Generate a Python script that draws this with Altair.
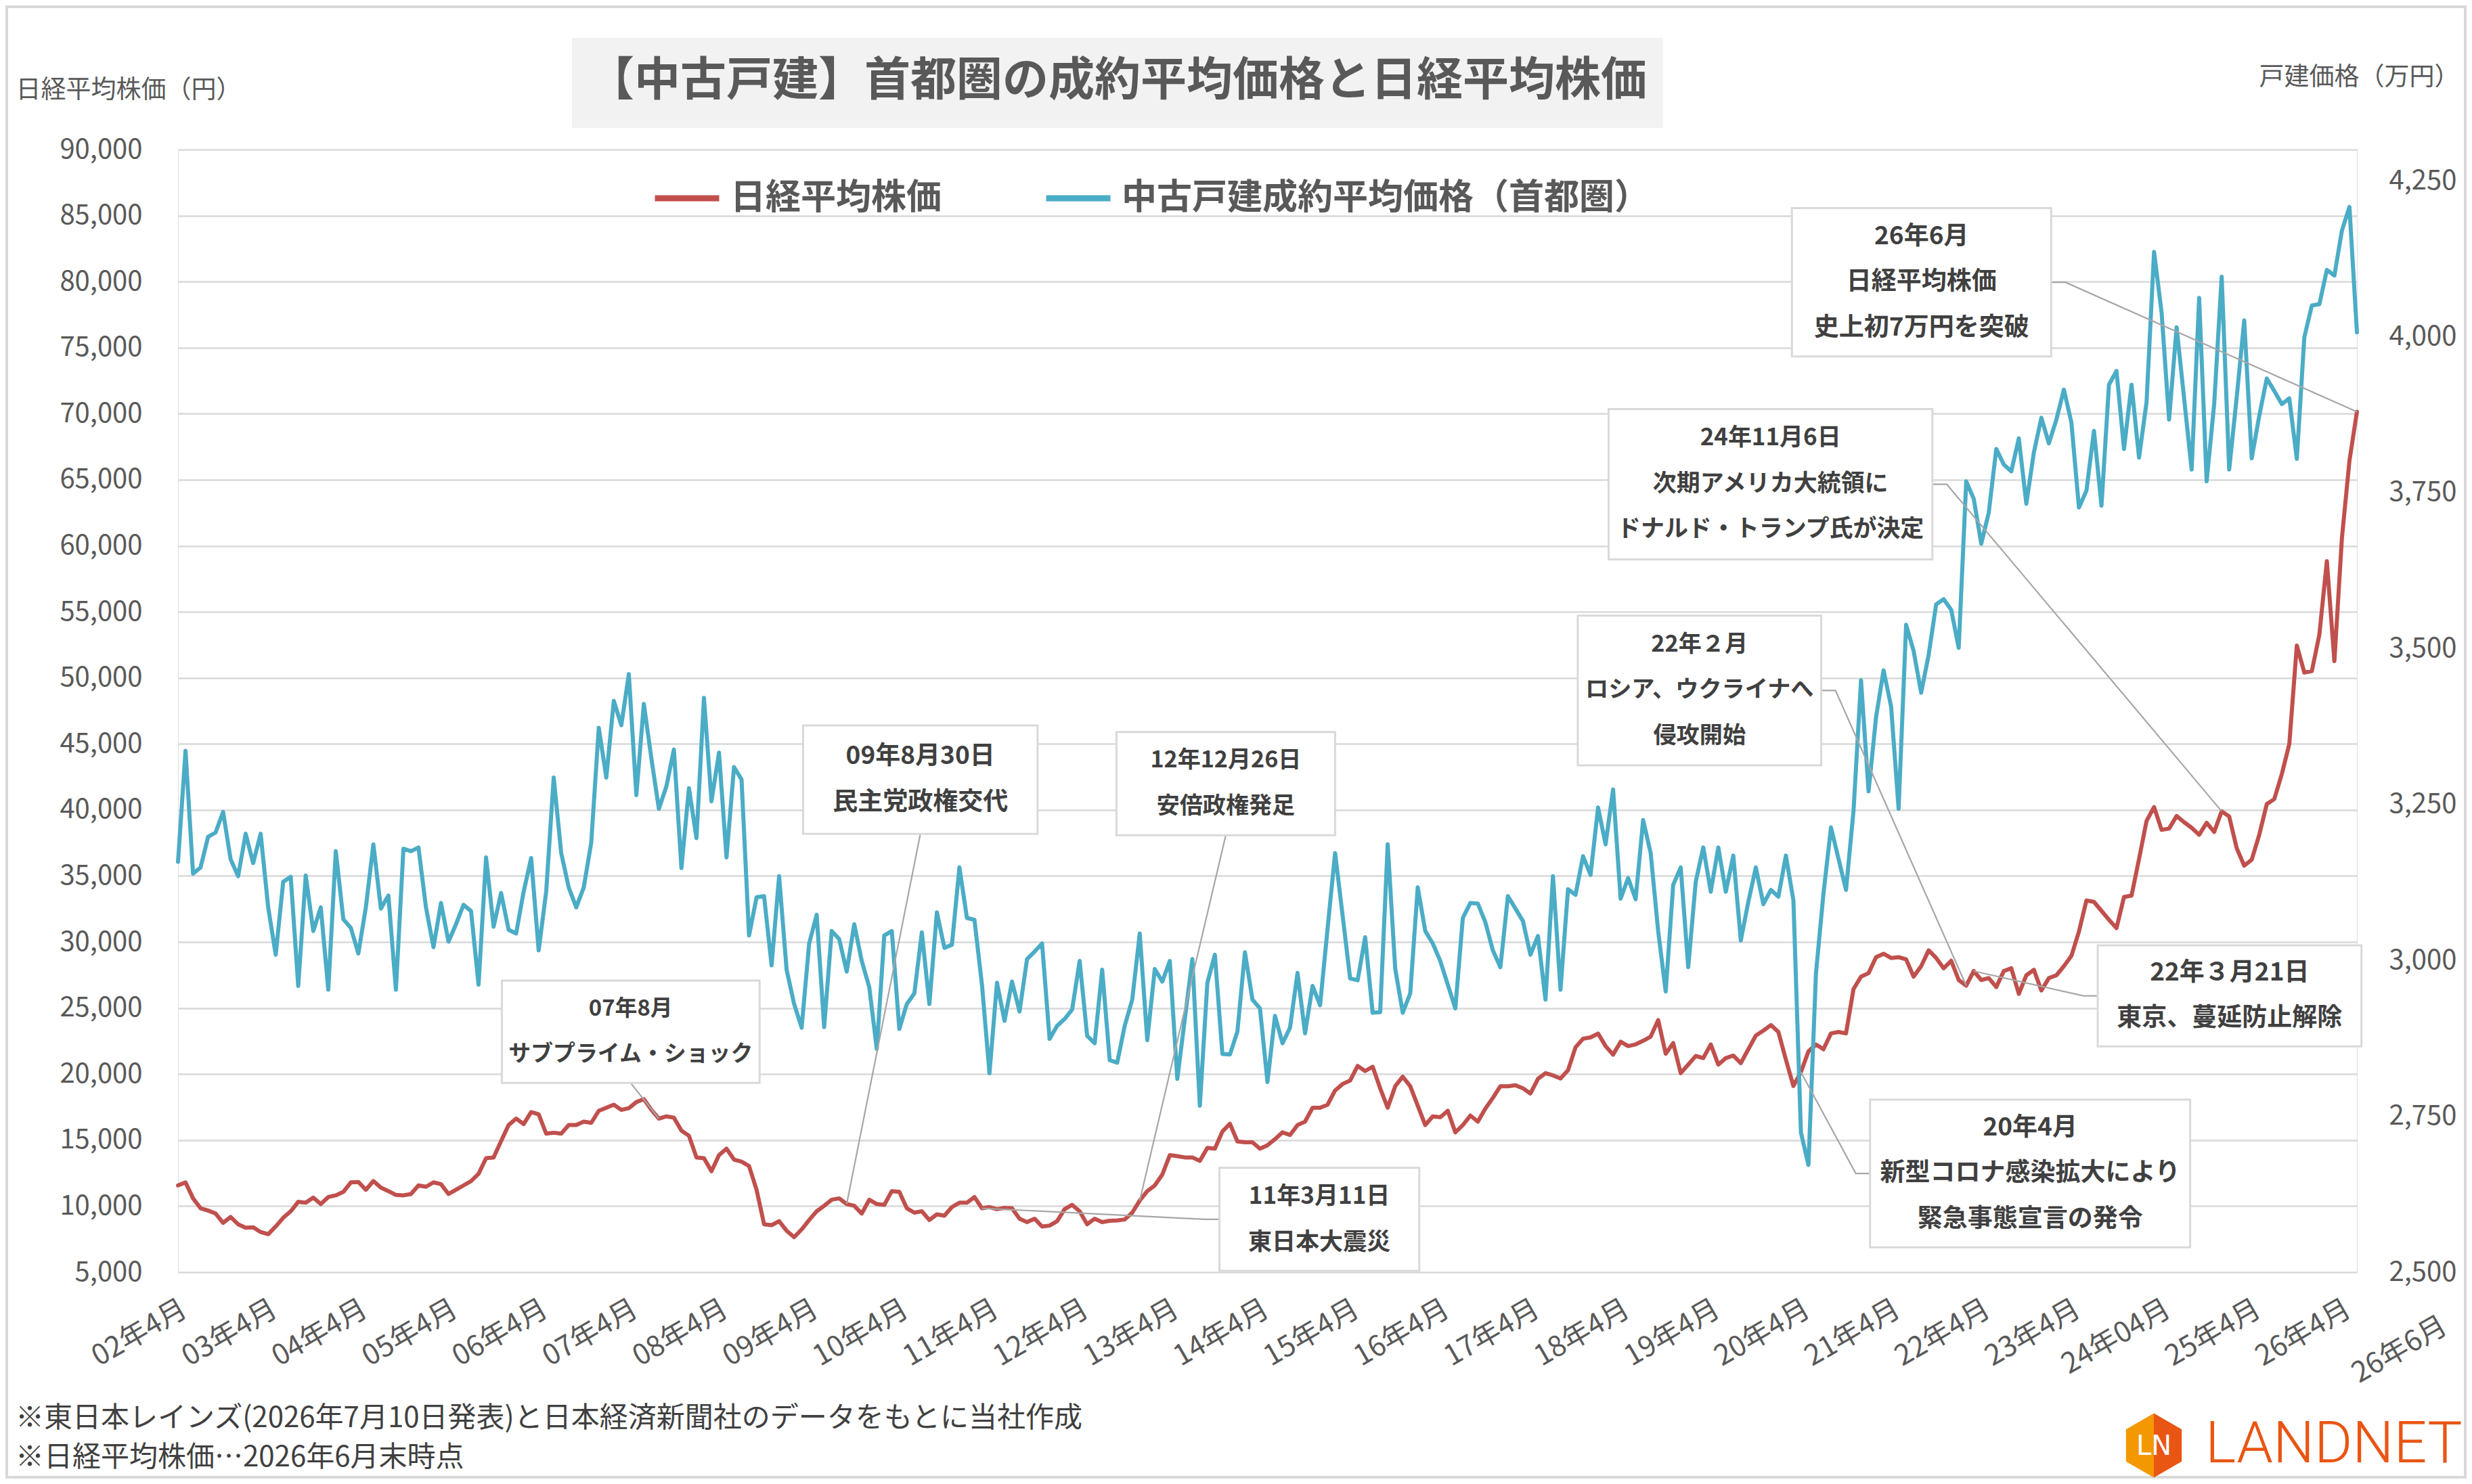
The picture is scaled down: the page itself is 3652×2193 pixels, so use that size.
import json
import altair as alt
import pandas as pd

FONT = "Noto Sans CJK JP"
TEXT_DARK = "#404040"
TEXT_GRAY = "#595959"
GRID = "#d9d9d9"

# ---------------- data ----------------
months = [f"{y}-{m:02d}" for y in range(2002, 2027) for m in range(1, 13)][3:3 + 291]

# 日経平均株価（円） monthly, 2002-04 .. 2026-06
nikkei = [
    11570, 11800, 10590, 9840, 9670, 9440, 8730, 9180, 8630,
    8370, 8400, 8040, 7880, 8460, 9120, 9610, 10330, 10260, 10650, 10160, 10690,
    10820, 11080, 11800, 11830, 11240, 11900, 11400, 11140, 10850, 10820, 10920, 11570,
    11470, 11800, 11670, 10920, 11240, 11570, 11900, 12450, 13630, 13690, 14930, 16140,
    16630, 16210, 17120, 16960, 15490, 15560, 15490, 16140, 16140, 16400, 16310, 17220,
    17450, 17680, 17290, 17420, 17880, 18100, 17290, 16630, 16800, 16700, 15720, 15330,
    13690, 13630, 12650, 13860, 14350, 13530, 13370, 13040, 11240, 8630, 8560, 8860,
    8140, 7650, 8240, 8950, 9610, 10030, 10490, 10590, 10160, 10030, 9440, 10490,
    10160, 10100, 11140, 11080, 9840, 9510, 9610, 8950, 9380, 9280, 9930, 10260,
    10260, 10690, 9840, 9930, 9770, 9870, 9840, 9050, 8790, 9050, 8460, 8530,
    8860, 9770, 10100, 9610, 8630, 9050, 8790, 8890, 8920, 8990, 9510, 10420,
    11140, 11570, 12390, 13860, 13790, 13690, 13690, 13430, 14410, 14350, 15650, 16240,
    14900, 14840, 14840, 14350, 14610, 15070, 15590, 15390, 16140, 16400, 17450, 17450,
    17680, 18760, 19250, 19510, 20620, 20230, 20560, 18920, 17450, 19080, 19800, 19080,
    17610, 16140, 16800, 16730, 17220, 15590, 16140, 16860, 16400, 17390, 18200, 19080,
    19080, 19150, 18920, 18530, 19640, 20070, 19900, 19670, 20290, 22030, 22680, 22780,
    23070, 22120, 21470, 22450, 22120, 22250, 22520, 22840, 24090, 21540, 22350, 20070,
    20720, 21370, 21210, 22250, 20720, 21210, 21400, 20830, 21880, 22920, 23290, 23710,
    23190, 21090, 19100, 20150, 21720, 22240, 21880, 23080, 23190, 23080, 26440, 27380,
    27640, 28850, 29110, 28790, 28850, 28690, 27380, 28170, 29370, 28790, 28010, 28580,
    27120, 26700, 27800, 27120, 27270, 26590, 27800, 28010, 26070, 27480, 27900, 26330,
    27270, 27480, 28170, 28950, 30790, 33140, 33040, 32360, 31680, 31050, 33410, 33510,
    36290, 39170, 40220, 38490, 38590, 39540, 39070, 38650, 38120, 39030, 38330, 39900,
    39500, 37100, 35780, 36230, 38120, 40440, 40820, 42710, 44990, 52450, 50400, 50510,
    53270, 58840, 51260, 60570, 66410, 70150,
]

# 中古戸建成約平均価格（首都圏, 万円） monthly, 2002-04 .. 2026-06
house = [
    3158, 3336, 3139, 3149, 3198, 3205, 3238, 3162, 3135,
    3203, 3156, 3203, 3085, 3009, 3126, 3134, 2959, 3136, 3047, 3085, 2953,
    3175, 3066, 3052, 3011, 3085, 3186, 3083, 3104, 2953, 3179, 3175, 3181,
    3085, 3021, 3092, 3030, 3058, 3089, 3079, 2961, 3165, 3054, 3108, 3049,
    3043, 3110, 3164, 3016, 3110, 3293, 3172, 3117, 3085, 3117, 3189, 3373,
    3293, 3416, 3377, 3459, 3265, 3411, 3324, 3243, 3279, 3338, 3148, 3276,
    3196, 3421, 3255, 3333, 3165, 3310, 3290, 3040, 3101, 3103, 2992, 3135,
    2985, 2930, 2892, 3027, 3073, 2893, 3047, 3034, 2982, 3058, 2999, 2957,
    2858, 3040, 3047, 2890, 2930, 2947, 3045, 2930, 3077, 3020, 3025, 3149,
    3068, 3065, 2961, 2819, 2964, 2903, 2966, 2918, 3002, 3014, 3027, 2874,
    2895, 2906, 2921, 2999, 2879, 2867, 2985, 2840, 2836, 2895, 2937, 3043,
    2872, 2986, 2966, 2999, 2810, 2906, 3002, 2767, 2964, 3009, 2850, 2849,
    2886, 3013, 2937, 2923, 2805, 2911, 2867, 2892, 2980, 2883, 2959, 2928,
    3051, 3172, 3072, 2971, 2968, 3037, 2916, 2917, 3186, 2987, 2916, 2947,
    3117, 3047, 3027, 2999, 2961, 2923, 3068, 3092, 3091, 3061, 3016, 2989,
    3103, 3083, 3063, 3009, 3039, 2937, 3135, 2953, 3114, 3105, 3167, 3137,
    3245, 3186, 3274, 3099, 3132, 3098, 3225, 3172, 3047, 2950, 3121, 3149,
    2989, 3126, 3181, 3110, 3181, 3110, 3168, 3032, 3094, 3149, 3090, 3113,
    3102, 3168, 3096, 2724, 2672, 2979, 3107, 3213, 3163, 3113, 3240, 3449,
    3271, 3390, 3465, 3407, 3243, 3538, 3496, 3429, 3490, 3571, 3579, 3562,
    3501, 3768, 3740, 3668, 3718, 3820, 3795, 3784, 3837, 3732, 3814, 3870,
    3829, 3867, 3915, 3862, 3726, 3753, 3849, 3729, 3923, 3945, 3820, 3923,
    3806, 3895, 4136, 4039, 3867, 4015, 3901, 3787, 4062, 3768, 3892, 4096,
    3787, 3903, 4026, 3805, 3873, 3933, 3913, 3892, 3901, 3804, 3999, 4050,
    4052, 4107, 4098, 4170, 4208, 4007,
]

assert len(months) == len(nikkei) == len(house) == 291

x_tick_labels = [f"{y:02d}年4月" for y in range(2, 24)] + ["24年04月", "25年4月", "26年4月"]
x_last_label = "26年6月"
left_ticks = list(range(5000, 90001, 5000))
right_ticks = list(range(2500, 4251, 250))

series_names = ["日経平均株価", "中古戸建成約平均価格（首都圏）"]
series_colors = ["#C0504D", "#4BACC6"]

title_text = "【中古戸建】首都圏の成約平均価格と日経平均株価"
left_title = "日経平均株価（円）"
right_title = "戸建価格（万円）"
footnotes = [
    "※東日本レインズ(2026年7月10日発表)と日本経済新聞社のデータをもとに当社作成",
    "※日経平均株価…2026年6月末時点",
]

ann_texts = [
    ["07年8月", "サブプライム・ショック"],
    ["09年8月30日", "民主党政権交代"],
    ["11年3月11日", "東日本大震災"],
    ["12年12月26日", "安倍政権発足"],
    ["20年4月", "新型コロナ感染拡大により", "緊急事態宣言の発令"],
    ["22年２月", "ロシア、ウクライナへ", "侵攻開始"],
    ["22年３月21日", "東京、蔓延防止解除"],
    ["24年11月6日", "次期アメリカ大統領に", "ドナルド・トランプ氏が決定"],
    ["26年6月", "日経平均株価", "史上初7万円を突破"],
]
ann_anchor = ["2007-08", "2009-09", "2011-03", "2012-12", "2020-04",
              "2022-02", "2022-03", "2024-12", "2026-06"]

# ---------------- annotation layout (month index / left-axis units) ----------------
ann_layout = [
    (43.1, 77.4, 27087, 19327, "bottom"),
    (83.2, 114.4, 46394, 38190, "bottom"),
    (138.6, 165.2, 12904, 5107, "left"),
    (124.9, 154.0, 45893, 38085, "bottom"),
    (225.2, 267.8, 18062, 6886, "left"),
    (186.3, 218.7, 54713, 43372, "right"),
    (255.5, 290.6, 29750, 22097, "left"),
    (190.4, 233.5, 70349, 58968, "right"),
    (214.8, 249.3, 85562, 74336, "right"),
]
STUB = 1.9
LINE_STEP = 3460
PLOT_W, PLOT_H = 3219, 1659
PX_PER_MONTH = PLOT_W / (len(months) - 1)
ANN_FONT_MAX = 37

df = pd.DataFrame({"idx": list(range(len(months))), "month": months,
                   "nikkei": nikkei, "house": house})

tick_df = pd.DataFrame({"idx": list(range(0, len(months), 12)), "label": x_tick_labels})

box_rows, lead_rows, text_rows = [], [], []
for k, (lay, anchor, lines) in enumerate(zip(ann_layout, ann_anchor, ann_texts)):
    m0, m1, top, bot, side = lay
    box_rows.append({"m0": m0, "m1": m1, "top": top, "bot": bot})
    ai = months.index(anchor)
    mid = (top + bot) / 2
    if side == "bottom":
        pts = [((m0 + m1) / 2, bot)]
    elif side == "left":
        pts = [(m0, mid), (m0 - STUB, mid)]
    else:
        pts = [(m1, mid), (m1 + STUB, mid)]
    pts.append((ai, nikkei[ai]))
    for o, (mx, my) in enumerate(pts):
        lead_rows.append({"ann": k, "o": o, "m": mx, "v": my})
    box_px = (m1 - m0) * PX_PER_MONTH
    fs = min(ANN_FONT_MAX, min(0.95 * box_px / len(t) for t in lines))
    n = len(lines)
    for i, t in enumerate(lines):
        text_rows.append({"m": (m0 + m1) / 2, "v": mid + ((n - 1) / 2 - i) * LINE_STEP,
                          "t": t, "fs": fs})

box_df = pd.DataFrame(box_rows)
lead_df = pd.DataFrame(lead_rows)
text_df = pd.DataFrame(text_rows)

# ---------------- scales / axes ----------------
x_scale = alt.Scale(domain=[0, len(months) - 1], nice=False, zero=False)
yl_scale = alt.Scale(domain=[5000, 90000], nice=False, zero=False)
yr_scale = alt.Scale(domain=[2500, 4300], nice=False, zero=False)
color_scale = alt.Scale(domain=series_names, range=series_colors)

left_axis = alt.Axis(values=left_ticks, format=",d", orient="left", grid=True,
                     gridColor=GRID, gridWidth=2.5, ticks=False, domain=False,
                     labelFont=FONT, labelFontSize=40, labelColor=TEXT_GRAY, labelPadding=53,
                     labelLimit=400,
                     title=left_title, titleAngle=0, titleAlign="left", titleBaseline="middle",
                     titleX=-240, titleY=-88, titleFont=FONT, titleFontSize=37,
                     titleFontWeight="normal", titleColor=TEXT_GRAY, titleLimit=800)

right_axis = alt.Axis(values=right_ticks, format=",d", orient="right", grid=False,
                      ticks=False, domain=False,
                      labelFont=FONT, labelFontSize=40, labelColor=TEXT_GRAY, labelPadding=47,
                      labelLimit=400,
                      title=right_title, titleAngle=0, titleAlign="right", titleBaseline="middle",
                      titleX=151, titleY=-107, titleFont=FONT, titleFontSize=37,
                      titleFontWeight="normal", titleColor=TEXT_GRAY, titleLimit=800)

legend = alt.Legend(title=None, orient="none", legendX=700, legendY=20,
                    direction="horizontal", symbolType="stroke", symbolSize=9025,
                    symbolStrokeWidth=9, labelFont=FONT, labelFontSize=52,
                    labelFontWeight="bold", labelColor=TEXT_GRAY, labelOffset=12,
                    columnPadding=135, labelLimit=1200, padding=0)

# ---------------- layers ----------------
red = alt.Chart(df).transform_calculate(
    series=json.dumps(series_names[0], ensure_ascii=False)
).mark_line(strokeWidth=6, strokeJoin="round", strokeCap="round").encode(
    x=alt.X("idx:Q", scale=x_scale, axis=None),
    y=alt.Y("nikkei:Q", scale=yl_scale, axis=left_axis),
    color=alt.Color("series:N", scale=color_scale, legend=legend),
)

blue = alt.Chart(df).transform_calculate(
    series=json.dumps(series_names[1], ensure_ascii=False)
).mark_line(strokeWidth=6, strokeJoin="round", strokeCap="round").encode(
    x=alt.X("idx:Q", scale=x_scale, axis=None),
    y=alt.Y("house:Q", scale=yr_scale, axis=right_axis),
    color=alt.Color("series:N", scale=color_scale, legend=legend),
)

x_labels = alt.Chart(tick_df).mark_text(font=FONT, fontSize=42, color=TEXT_GRAY, angle=330,
                                        align="right", baseline="top").encode(
    x=alt.X("idx:Q", scale=x_scale, axis=None),
    y=alt.value(PLOT_H + 34),
    text="label:N",
)

leaders = alt.Chart(lead_df).mark_line(color="#a6a6a6", strokeWidth=2.2).encode(
    x=alt.X("m:Q", scale=x_scale, axis=None),
    y=alt.Y("v:Q", scale=yl_scale, axis=None),
    detail="ann:N",
    order="o:Q",
)

boxes = alt.Chart(box_df).mark_rect(fill="white", stroke=GRID, strokeWidth=3).encode(
    x=alt.X("m0:Q", scale=x_scale, axis=None),
    x2="m1",
    y=alt.Y("top:Q", scale=yl_scale, axis=None),
    y2="bot",
)

ann_text = alt.Chart(text_df).mark_text(font=FONT, fontWeight="bold",
                                        color=TEXT_DARK, align="center", baseline="middle").encode(
    x=alt.X("m:Q", scale=x_scale, axis=None),
    y=alt.Y("v:Q", scale=yl_scale, axis=None),
    text="t:N",
    size=alt.Size("fs:Q", scale=None, legend=None),
)

one = alt.Data(values=[{"a": 1}])

border = alt.Chart(one).mark_rect(fillOpacity=0, stroke=GRID, strokeWidth=4).encode(
    x=alt.value(-253), x2=alt.value(3379), y=alt.value(-211), y2=alt.value(1962))

title_box = alt.Chart(one).mark_rect(fill="#f2f2f2").encode(
    x=alt.value(582), x2=alt.value(2194), y=alt.value(-165), y2=alt.value(-32))

title = alt.Chart(one).mark_text(text=title_text, font=FONT, fontSize=68, fontWeight="bold",
                                 color=TEXT_GRAY, align="center", baseline="middle").encode(
    x=alt.value(1388), y=alt.value(-100))

last_label = alt.Chart(one).mark_text(text=x_last_label, font=FONT, fontSize=42,
                                      color=TEXT_GRAY, angle=330, align="right",
                                      baseline="top").encode(
    x=alt.value(3339), y=alt.value(1718))

foot1 = alt.Chart(one).mark_text(text=footnotes[0], font=FONT, fontSize=42, color=TEXT_DARK,
                                 align="left", baseline="middle").encode(
    x=alt.value(-240), y=alt.value(1875))
foot2 = alt.Chart(one).mark_text(text=footnotes[1], font=FONT, fontSize=42, color=TEXT_DARK,
                                 align="left", baseline="middle").encode(
    x=alt.value(-240), y=alt.value(1933))

hex_left = alt.Chart(one).mark_point(shape="M0,-1L-0.866,-0.5L-0.866,0.5L0,1Z", filled=True,
                                     size=9025, color="#F39800", opacity=1).encode(
    x=alt.value(2919), y=alt.value(1915))
hex_right = alt.Chart(one).mark_point(shape="M0,-1L0.866,-0.5L0.866,0.5L0,1Z", filled=True,
                                      size=9025, color="#E95513", opacity=1).encode(
    x=alt.value(2919), y=alt.value(1915))
hex_letters = alt.Chart(one).mark_text(text="LN", font="DejaVu Sans", fontSize=40,
                                       color="white", align="center", baseline="middle").encode(
    x=alt.value(2919), y=alt.value(1917))
logo_text = alt.Chart(one).mark_text(text="LANDNET", font="Roboto", fontSize=86, fontWeight=300,
                                     color="#E95513", align="left",
                                     baseline="middle").encode(
    x=alt.value(2995), y=alt.value(1914))

chart = alt.layer(
    border, title_box, title,
    red, blue, x_labels, leaders, boxes, ann_text,
    last_label, foot1, foot2,
    hex_left, hex_right, hex_letters, logo_text,
).resolve_scale(y="independent").properties(
    width=PLOT_W, height=PLOT_H,
    padding={"left": 255, "top": 213, "right": 162, "bottom": 305},
    autosize=alt.AutoSizeParams(type="none"),
).configure_view(stroke=None).configure(font=FONT, background="white")

chart.save("out.html", embed_options={"renderer": "svg", "actions": False})
